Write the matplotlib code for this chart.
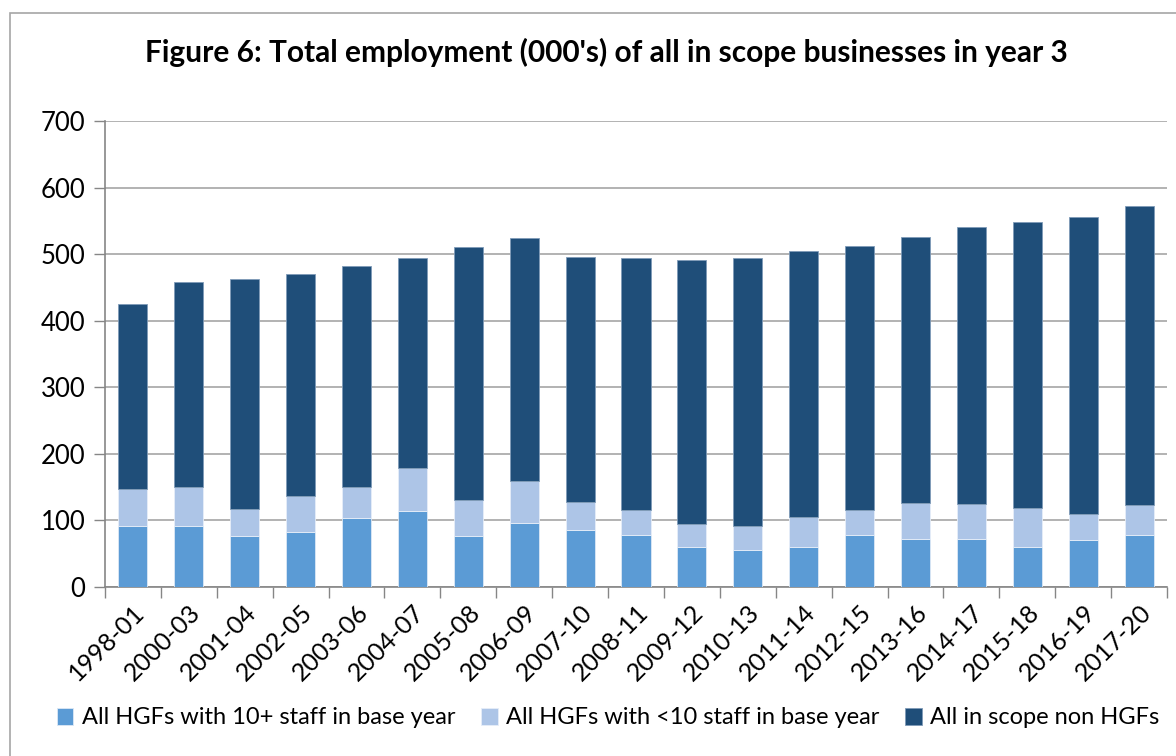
import matplotlib
matplotlib.use("Agg")
import matplotlib.pyplot as plt
import numpy as np
from matplotlib.patches import Rectangle

periods = ["1998-01", "2000-03", "2001-04", "2002-05", "2003-06", "2004-07", "2005-08",
           "2006-09", "2007-10", "2008-11", "2009-12", "2010-13", "2011-14", "2012-15",
           "2013-16", "2014-17", "2015-18", "2016-19", "2017-20"]
hgf_10plus = [91.5, 91.5, 76.5, 82.5, 103.5, 114, 76.5, 96, 85.5, 78, 60, 55.5, 60, 77.5,
              72, 72.5, 60, 70.5, 77.5]
hgf_under10 = [55.5, 58, 40, 54.5, 47, 65, 53.5, 63.5, 42, 37.5, 34.5, 36, 45.5, 37.5,
               54, 52.5, 58.5, 38.5, 46]
non_hgf = [278, 308, 346, 333.5, 331.5, 315, 380.5, 364, 368, 378.5, 396, 403, 399, 397,
           400.5, 416.5, 430.5, 446.5, 449.5]
series_names = ["All HGFs with 10+ staff in base year",
                "All HGFs with <10 staff in base year",
                "All in scope non HGFs"]
colors = ["#5B9BD5", "#ADC5E7", "#1F4E79"]
yticks = [0, 100, 200, 300, 400, 500, 600, 700]

plt.rcParams['font.family'] = ['Lato', 'DejaVu Sans']

W, H = 1176, 756
fig = plt.figure(figsize=(W / 100, H / 100), dpi=100)
ax = fig.add_axes([105 / W, 1 - 587 / H, (1167 - 105) / W, (587 - 121) / H])

x = np.arange(len(periods))
bw = 0.52
a = np.array(hgf_10plus)
b = np.array(hgf_under10)
c = np.array(non_hgf)
ax.bar(x, a, bw, color=colors[0], label=series_names[0], zorder=3,
       edgecolor="#DCE8F5", linewidth=0.6)
ax.bar(x, b, bw, bottom=a, color=colors[1], label=series_names[1], zorder=3,
       edgecolor="#E6EEF8", linewidth=0.6)
ax.bar(x, c, bw, bottom=a + b, color=colors[2], label=series_names[2], zorder=3,
       edgecolor="#7F9BB8", linewidth=0.6)

ax.set_xlim(-0.5, len(periods) - 0.5)
ax.set_ylim(0, 700)
ax.set_yticks(yticks)
ax.set_yticklabels([str(v) for v in yticks], fontsize=18.5)
ax.set_xticks(np.arange(len(periods) + 1) - 0.5, minor=False)
ax.set_xticklabels([])
ax.set_xticks(x, minor=True)
ax.set_xticklabels(periods, minor=True, rotation=45, ha="right",
                   rotation_mode="anchor", fontsize=18)
ax.tick_params(axis="x", which="minor", length=0, pad=10)
ax.tick_params(axis="x", which="major", length=8, color="#868686", width=1)
ax.tick_params(axis="y", length=8, color="#868686", width=1, pad=6)

ax.grid(axis="y", color="#A6A6A6", linewidth=1.2, zorder=0)
for s in ["top", "right"]:
    ax.spines[s].set_visible(False)
for s in ["left", "bottom"]:
    ax.spines[s].set_color("#868686")
    ax.spines[s].set_linewidth(1.2)

fig.text(606 / W, 1 - 52 / H, "Figure 6: Total employment (000's) of all in scope businesses in year 3",
         ha="center", va="center", fontsize=21.5, fontweight="bold")

leg = fig.legend(loc="center", bbox_to_anchor=(608 / W, 1 - 718 / H), ncol=3, frameon=False,
                 fontsize=17, handlelength=0.7, handleheight=0.7, columnspacing=1.1,
                 handletextpad=0.35, borderpad=0, borderaxespad=0)

fig.patches.append(Rectangle((10 / W, -0.1), 1.2, 1 - 13 / H + 0.1, transform=fig.transFigure,
                             fill=False, edgecolor="#A6A6A6", linewidth=1.2))

fig.savefig("out.png", dpi=100)
